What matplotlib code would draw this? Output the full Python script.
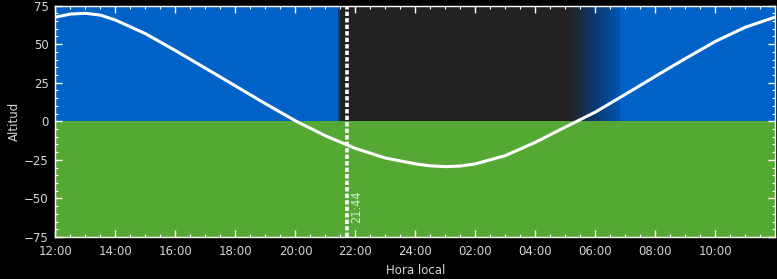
import matplotlib.pyplot as plt
import numpy as np
from matplotlib.colors import LinearSegmentedColormap
from matplotlib.ticker import MultipleLocator, FixedLocator

# altitude of the object vs local hour (12 = noon, 24 = midnight, 36 = next noon)
hours = [12, 12.5, 13, 13.5, 14, 15, 16, 17, 18, 19, 20, 21, 22, 23, 24,
         24.5, 25, 25.5, 26, 27, 28, 29, 30, 31, 32, 33, 34, 35, 36]
altitude = [67.5, 69.5, 70.0, 68.8, 65.6, 56.8, 45.8, 34.4, 22.9, 11.4, 0.3,
            -9.4, -17.6, -23.8, -27.6, -28.9, -29.4, -29.0, -27.6, -22.2,
            -13.6, -3.7, 6.0, 17.5, 29.2, 40.7, 51.8, 61.0, 67.6]

night_start = 21.48     # dark sky begins
night_end = 29.15       # dawn gradient starts
dawn_end = 30.8         # full daylight
marker_hour = 21 + 44 / 60
marker_label = "21:44"

tick_hours = [12, 14, 16, 18, 20, 22, 24, 26, 28, 30, 32, 34]
tick_labels = ["12:00", "14:00", "16:00", "18:00", "20:00", "22:00", "24:00",
               "02:00", "04:00", "06:00", "08:00", "10:00"]

sky_blue = "#0062c6"
ground = "#55a834"
night = "#222222"
text_col = "#d6d6d6"

fig = plt.figure(figsize=(7.77, 2.79), dpi=100, facecolor="black")
ax = fig.add_axes([0.0714, 0.1505, 0.9266, 0.8295])
ax.set_facecolor("black")

# sky / ground backgrounds
ax.fill_between([12, 36], 0, 75, color=sky_blue, lw=0, zorder=0)
ax.fill_between([12, 36], -75, 0, color=ground, lw=0, zorder=0)
ax.fill_between([night_start - 0.07, night_start], 0, 75, color="#0a3f86", lw=0, zorder=1)
ax.fill_between([night_start, night_end], 0, 75, color=night, lw=0, zorder=1)
cmap = LinearSegmentedColormap.from_list("dawn", [night, "#0b3a70", "#0056b2"])
grad = np.linspace(0, 1, 256).reshape(1, -1)
ax.imshow(grad, cmap=cmap, extent=[night_end, dawn_end, 0, 75],
          aspect="auto", zorder=1, interpolation="bilinear")
ax.set_xlim(12, 36)
ax.set_ylim(-75, 75)

ax.plot(hours, altitude, color="white", lw=2.2, zorder=3, solid_capstyle="round")

ax.axvline(marker_hour, color="white", lw=2.6, dashes=(1.2, 0.6), zorder=4)
ax.text(marker_hour + 0.3, -66, marker_label, rotation=90, color="#cfeecf",
        fontsize=9, fontstretch="condensed", ha="center", va="bottom", zorder=5)

ax.xaxis.set_major_locator(FixedLocator(tick_hours))
ax.set_xticklabels(tick_labels)
ax.xaxis.set_minor_locator(MultipleLocator(0.5))
ax.yaxis.set_major_locator(MultipleLocator(25))
ax.yaxis.set_minor_locator(MultipleLocator(5))
ax.tick_params(which="both", direction="in", colors="white", labelcolor=text_col,
               top=True, right=True, labelsize=8.5)
ax.tick_params(which="major", length=5, width=1)
ax.tick_params(which="minor", length=2.5, width=0.8)
ax.tick_params(axis="x", which="major", pad=6)
ax.tick_params(axis="y", which="major", pad=5)
for s in ax.spines.values():
    s.set_color("white")
    s.set_linewidth(1)

ax.set_xlabel("Hora local", color=text_col, fontsize=8.5, labelpad=4)
ax.set_ylabel("Altitud", color=text_col, fontsize=8.5, labelpad=2)

fig.savefig("out.png", dpi=100, facecolor="black")
